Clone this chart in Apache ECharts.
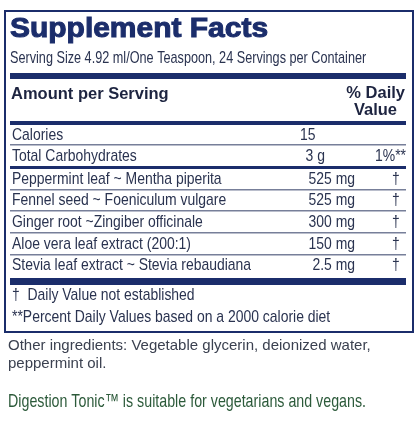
<!DOCTYPE html>
<html><head><meta charset="utf-8">
<script src="https://cdn.jsdelivr.net/npm/echarts@6/dist/echarts.min.js"></script>
<style>html,body{margin:0;padding:0;background:#fff}#c{width:416px;height:424px}</style>
</head><body><div id="c"></div>
<script>
const title = "Supplement Facts";
const servingText = "Serving Size 4.92 ml/One Teaspoon, 24 Servings per Container";
const nutrientNames = ["Calories", "Total Carbohydrates"];
const nutrientAmounts = ["15", "3 g"];
const nutrientDV = ["", "1%**"];
const ingredientNames = ["Peppermint leaf ~ Mentha piperita", "Fennel seed ~ Foeniculum vulgare", "Ginger root ~Zingiber officinale", "Aloe vera leaf extract (200:1)", "Stevia leaf extract ~ Stevia rebaudiana"];
const ingredientAmounts = ["525 mg", "525 mg", "300 mg", "150 mg", "2.5 mg"];
const ingredientDV = ["†", "†", "†", "†", "†"];
const footnotes = ["†  Daily Value not established", "**Percent Daily Values based on a 2000 calorie diet"];
const otherText = ["Other ingredients: Vegetable glycerin, deionized water,", "peppermint oil."];
const veganText = "Digestion Tonic™ is suitable for vegetarians and vegans.";

const NAVY = '#1b2d6b', TXT = '#2a3350';
const LF = '"Liberation Sans",Arial,sans-serif';
const els = [];
function rect(x,y,w,h,fill){els.push({type:'rect',shape:{x,y,width:w,height:h},style:{fill}});}
function txt(s,x,y,o,sx){els.push({type:'text',x,y,scaleX:sx==null?0.82:sx,style:Object.assign({text:s,fill:TXT,font:'17px '+LF,textVerticalAlign:'middle',textAlign:'left'},o||{})});}
els.push({type:'rect',shape:{x:5,y:11,width:408,height:321},style:{fill:'none',stroke:NAVY,lineWidth:2}});
txt(title,10,29,{font:'bold 28px '+LF,fill:NAVY,stroke:NAVY,lineWidth:1},1.07);
txt(servingText,10,58,{font:'17px '+LF},0.745);
rect(10,73,396,6,NAVY);
txt("Amount per Serving",11,94,{font:'bold 16.5px '+LF,fill:'#1d2440'},1);
txt("% Daily",405,93,{font:'bold 16.5px '+LF,fill:'#1d2440',textAlign:'right'},1);
txt("Value",397,110,{font:'bold 16.5px '+LF,fill:'#1d2440',textAlign:'right'},1);
rect(10,121,396,4,NAVY);
const rowsN = nutrientNames.length;
const rowY = [135,156,179,200,222,244,265];
nutrientNames.forEach((n,i)=>{
  txt(n,12,rowY[i]);
  txt(nutrientAmounts[i], i===0?300:325, rowY[i], {textAlign: i===0?'left':'right'});
  if(nutrientDV[i]) txt(nutrientDV[i],406,rowY[i],{textAlign:'right'});
});
rect(10,144,396,1.5,'#777f99');
rect(10,166,396,3,NAVY);
ingredientNames.forEach((n,i)=>{
  const y=rowY[rowsN+i];
  txt(n,12,y);
  txt(ingredientAmounts[i],355,y,{textAlign:'right'});
  txt(ingredientDV[i],396,y,{textAlign:'center'});
  if(i<ingredientNames.length-1) rect(10,y+10,396,1.5,'#777f99');
});
rect(10,278,396,7,NAVY);
txt(footnotes[0],12,295);
txt(footnotes[1],12,317);
txt(otherText[0],8,346,{font:'15px '+LF,fill:'#3b4150'},1);
txt(otherText[1],8,364,{font:'15px '+LF,fill:'#3b4150'},1);
txt(veganText,8,402,{font:'19px '+LF,fill:'#2c5a3a'},0.75);
const chart = echarts.init(document.getElementById('c'));
chart.setOption({animation:false,graphic:{elements:els}});
</script></body></html>
